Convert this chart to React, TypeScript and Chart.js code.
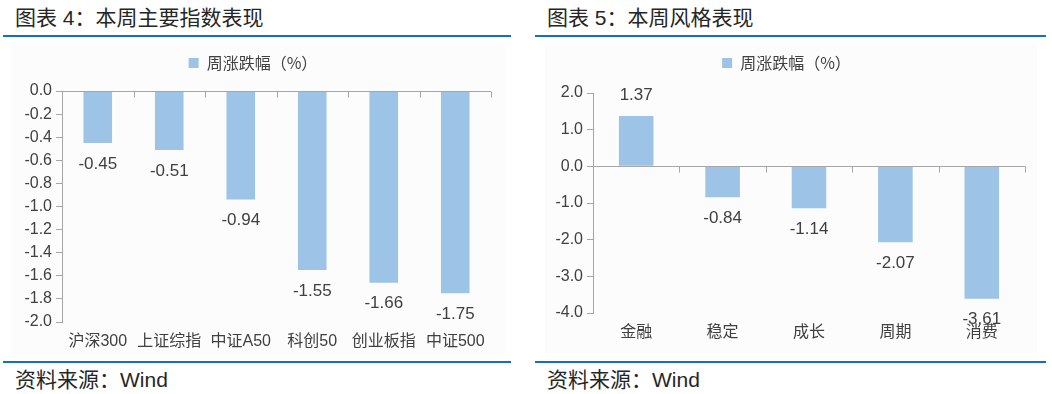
import React, { useEffect, useRef } from "react";
import { Chart, registerables } from "chart.js";

Chart.register(...registerables);

// ---------- data ----------
const leftTitle = "图表 4：本周主要指数表现";
const rightTitle = "图表 5：本周风格表现";
const sourceText = "资料来源：Wind";
const seriesLabel = "周涨跌幅（%）";

const indexCategories = ["沪深300", "上证综指", "中证A50", "科创50", "创业板指", "中证500"];
const indexValues = [-0.45, -0.51, -0.94, -1.55, -1.66, -1.75];
const indexTicks = [0.0, -0.2, -0.4, -0.6, -0.8, -1.0, -1.2, -1.4, -1.6, -1.8, -2.0];

const styleCategories = ["金融", "稳定", "成长", "周期", "消费"];
const styleValues = [1.37, -0.84, -1.14, -2.07, -3.61];
const styleTicks = [2.0, 1.0, 0.0, -1.0, -2.0, -3.0, -4.0];

// ---------- styles ----------
const FONT = '"Liberation Sans", "Noto Sans CJK SC", sans-serif';
const CJK_FONT = '"Noto Sans CJK SC", "Liberation Sans", sans-serif';
const BAR_COLOR = "#9DC3E6";
const AXIS_COLOR = "#A6A6A6";
const TEXT_COLOR = "#404040";
const RULE_COLOR = "#1170C4";

type Geo = {
  padL: number;
  padR: number;
  yWidth: number;
  xHeight: number;
  legendPad: number;
  spacer: number;
};

const dataLabelPlugin = {
  id: "valueLabels",
  afterDatasetsDraw(chart: any) {
    const ctx = chart.ctx;
    const meta = chart.getDatasetMeta(0);
    const values = chart.data.datasets[0].data as number[];
    ctx.save();
    ctx.font = `17px ${FONT}`;
    ctx.fillStyle = TEXT_COLOR;
    ctx.textAlign = "center";
    ctx.textBaseline = "middle";
    meta.data.forEach((bar: any, i: number) => {
      const v = values[i];
      const y = v >= 0 ? bar.y - 21 : bar.y + 21;
      ctx.fillText(v.toFixed(2), bar.x, y);
    });
    ctx.restore();
  },
};

const boundaryTickPlugin = {
  id: "boundaryTicks",
  afterDatasetsDraw(chart: any) {
    const ctx = chart.ctx;
    const xs = chart.scales.x;
    const ys = chart.scales.y;
    const y0 = Math.round(ys.getPixelForValue(0)) + 0.5;
    const n = chart.data.labels.length;
    ctx.save();
    ctx.strokeStyle = AXIS_COLOR;
    ctx.lineWidth = 1;
    ctx.beginPath();
    ctx.moveTo(chart.chartArea.left, y0);
    ctx.lineTo(chart.chartArea.right, y0);
    ctx.stroke();
    for (let i = 1; i <= n; i++) {
      const x = Math.round(xs.getPixelForValue(i - 0.5)) + 0.5;
      ctx.beginPath();
      ctx.moveTo(x, y0);
      ctx.lineTo(x, y0 + 6);
      ctx.stroke();
    }
    ctx.restore();
  },
};

function makeConfig(categories: string[], values: number[], ticks: number[], g: Geo): any {
  const min = Math.min(...ticks);
  const max = Math.max(...ticks);
  return {
    type: "bar",
    data: {
      labels: categories,
      datasets: [
        {
          label: seriesLabel,
          data: values,
          backgroundColor: BAR_COLOR,
          borderWidth: 0,
          barPercentage: 0.4,
          categoryPercentage: 1,
        },
      ],
    },
    options: {
      animation: false,
      responsive: false,
      maintainAspectRatio: false,
      layout: { padding: { left: g.padL, right: g.padR, top: 0, bottom: 0 } },
      plugins: {
        legend: {
          display: true,
          position: "top",
          labels: {
            boxWidth: 10,
            boxHeight: 10,
            padding: g.legendPad,
            color: TEXT_COLOR,
            font: { size: 16, family: CJK_FONT },
          },
        },
        title: {
          display: true,
          text: "",
          weight: 500,
          padding: 0,
          font: { size: g.spacer, lineHeight: 1 },
        },
        tooltip: { enabled: false },
      },
      scales: {
        x: {
          grid: { display: false, drawTicks: false },
          border: { display: false },
          ticks: {
            color: TEXT_COLOR,
            font: { size: 16, family: FONT },
            padding: 10,
            maxRotation: 0,
            autoSkip: false,
          },
          afterFit: (s: any) => {
            s.height = g.xHeight;
          },
        },
        y: {
          min,
          max,
          afterBuildTicks: (s: any) => {
            s.ticks = ticks.map((v) => ({ value: v }));
          },
          afterFit: (s: any) => {
            s.width = g.yWidth;
          },
          border: { display: true, color: AXIS_COLOR },
          grid: {
            color: "rgba(0,0,0,0)",
            tickColor: AXIS_COLOR,
            tickLength: 6,
            drawTicks: true,
          },
          ticks: {
            color: TEXT_COLOR,
            font: { size: 16, family: FONT },
            padding: 4,
            callback: (v: any) => {
              const n = Number(v);
              return (Math.abs(n) < 1e-9 ? 0 : n).toFixed(1);
            },
          },
        },
      },
    },
    plugins: [boundaryTickPlugin, dataLabelPlugin],
  };
}

function BarChart(props: {
  categories: string[];
  values: number[];
  ticks: number[];
  geo: Geo;
  width: number;
  height: number;
}) {
  const ref = useRef<HTMLCanvasElement | null>(null);
  useEffect(() => {
    if (!ref.current) return;
    const chart = new Chart(ref.current, makeConfig(props.categories, props.values, props.ticks, props.geo));
    return () => chart.destroy();
  }, []);
  return (
    <canvas
      ref={ref}
      width={props.width}
      height={props.height}
      style={{ width: props.width, height: props.height, display: "block" }}
    />
  );
}

const abs = (l: number, t: number, extra: any = {}): any => ({ position: "absolute", left: l, top: t, ...extra });

export default function App() {
  const titleStyle = { fontSize: 21, lineHeight: "27px", color: "#262626", whiteSpace: "pre", fontFamily: FONT };
  return (
    <div
      style={{
        position: "fixed",
        left: 0,
        top: 0,
        width: 1052,
        height: 394,
        background: "#ffffff",
        overflow: "hidden",
        fontFamily: FONT,
      }}
    >
      {/* left panel */}
      <div style={abs(15, 4, titleStyle)}>{leftTitle}</div>
      <div style={abs(3, 35, { width: 508, height: 2, background: RULE_COLOR })} />
      <div style={abs(12, 42, { width: 493, height: 316, background: "#fcfcfc" })} />
      <div style={abs(0, 40)}>
        <BarChart
          categories={indexCategories}
          values={indexValues}
          ticks={indexTicks}
          width={510}
          height={320}
          geo={{ padL: 15, padR: 19, yWidth: 47, xHeight: 38, legendPad: 15, spacer: 10 }}
        />
      </div>
      <div style={abs(3, 361, { width: 508, height: 2, background: RULE_COLOR })} />
      <div style={abs(15, 366, titleStyle)}>{sourceText}</div>

      {/* right panel */}
      <div style={abs(547, 4, titleStyle)}>{rightTitle}</div>
      <div style={abs(535, 35, { width: 511, height: 2, background: RULE_COLOR })} />
      <div style={abs(545, 42, { width: 492, height: 311, background: "#fcfcfc" })} />
      <div style={abs(530, 40)}>
        <BarChart
          categories={styleCategories}
          values={styleValues}
          ticks={styleTicks}
          width={515}
          height={320}
          geo={{ padL: 18, padR: 20, yWidth: 45, xHeight: 47, legendPad: 15, spacer: 12 }}
        />
      </div>
      <div style={abs(535, 361, { width: 511, height: 2, background: RULE_COLOR })} />
      <div style={abs(547, 366, titleStyle)}>{sourceText}</div>
    </div>
  );
}
